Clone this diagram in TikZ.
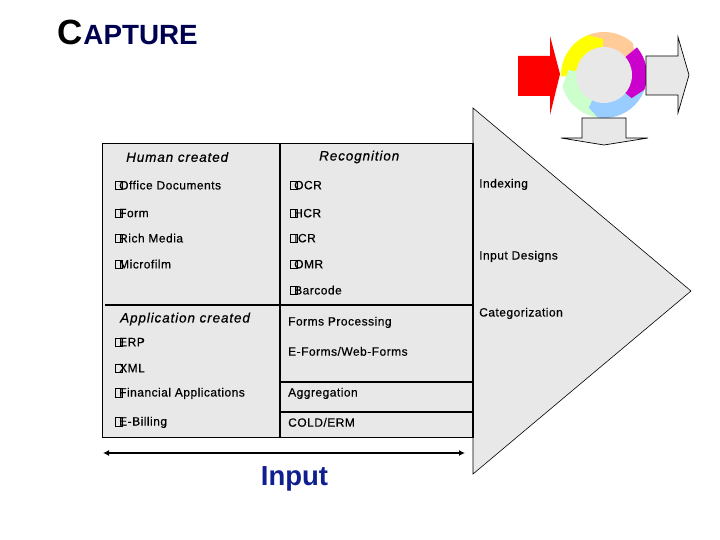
\documentclass[tikz,border=0pt]{standalone}
\usepackage{fontspec}
\setmainfont{Liberation Sans}
\newfontfamily\itemfont[FakeBold=0.35,LetterSpace=4]{Liberation Sans}
\newfontfamily\headfont[FakeBold=0.5,LetterSpace=6.5]{Liberation Sans}
\usetikzlibrary{
    arrows.meta,
    calc,
    positioning
}
\definecolor{panel}{HTML}{E8E8E8}
\definecolor{navy}{HTML}{0F1F8F}
\definecolor{deepnavy}{HTML}{000050}
\setlength{\fboxsep}{0pt}
\setlength{\fboxrule}{0.6pt}
\newcommand{\bul}{\makebox[4pt][l]{\fbox{\rule{0pt}{7.5pt}\hspace{6.5pt}}}}
\tikzset{
    item/.style={anchor=west, inner sep=0pt, yshift=0.6pt, font=\fontsize{12}{14}\itemfont},
    head/.style={anchor=west, inner sep=0pt, font=\fontsize{13.5}{15}\headfont\itshape},
    grid/.style={line width=1.6pt},
    blockarrow/.style={draw=black, fill=panel, line width=0.7pt}
}

\begin{document}
\begin{tikzpicture}[x=1pt, y=-1pt]
    \useasboundingbox (0, 0) rectangle (720, 540);
    % title
    \node[anchor=base west, inner sep=0pt] (title) at (57, 45) {\fontsize{35}{40}\selectfont\bfseries C\hspace{1pt}\fontsize{27.8}{30}\selectfont\color{deepnavy}APTURE};
    % big arrow behind the table
    \draw[fill=panel, line width=0.6pt] (473, 108) -- (691, 291) -- (473, 474) -- cycle;
    \draw[fill=panel, line width=1pt] (102, 144) rectangle (473, 437);
    \coordinate (ctop) at (280, 144);
    \coordinate (cbot) at (280, 437);
    \coordinate (ml) at (105, 305);
    \coordinate (mr) at (473, 305);
    \coordinate (al) at (280, 382);
    \coordinate (ar) at (473, 382);
    \coordinate (bl) at (280, 412);
    \coordinate (br) at (473, 412);
    \coordinate (rt) at (473, 144);
    \coordinate (rb) at (473, 437);
    \draw[grid] (ctop) -- (cbot) (ml) -- (mr) (al) -- (ar) (bl) -- (br) (rt) -- (rb);
    % left column
    \node[head] (human) at (126, 157) {Human created};
    \node[item] (office) at (115, 186) {\bul Office Documents};
    \node[item] (form) at (115, 214) {\bul Form};
    \node[item] (rich) at (115, 239) {\bul Rich Media};
    \node[item] (film) at (115, 265) {\bul Microfilm};
    \node[head] (app) at (120, 319) {Application created};
    \node[item] (erp) at (115, 343) {\bul ERP};
    \node[item] (xml) at (115, 369) {\bul XML};
    \node[item] (fin) at (115, 394) {\bul Financial Applications};
    \node[item] (bill) at (115, 423) {\bul E-Billing};
    % right column
    \node[head] (recog) at (319, 157) {Recognition};
    \node[item] (ocr) at (290, 186) {\bul OCR};
    \node[item] (hcr) at (290, 214) {\bul HCR};
    \node[item] (icr) at (290, 239) {\bul ICR};
    \node[item] (omr) at (290, 265) {\bul OMR};
    \node[item] (bar) at (290, 291) {\bul Barcode};
    \node[item] (forms) at (288, 323) {Forms Processing};
    \node[item] (eforms) at (288, 352) {E-Forms/Web-Forms};
    \node[item] (aggr) at (288, 394) {Aggregation};
    \node[item] (cold) at (288, 423) {COLD/ERM};
    % arrow labels
    \node[item] (index) at (479, 185) {Indexing};
    \node[item] (design) at (479, 257) {Input Designs};
    \node[item] (categ) at (479, 314) {Categorization};
    % input span
    \coordinate (il) at (103, 453);
    \coordinate (ir) at (465, 453);
    \draw[{Latex[length=6pt, width=6pt]}-{Latex[length=6pt, width=6pt]}, line width=1.6pt] (il) -- (ir);
    \node[anchor=base, inner sep=0pt, text=navy, font=\fontsize{27.5}{30}\selectfont\bfseries] (input) at (294.5, 485) {Input};
    % cycle
    \coordinate (hub) at (604, 75);
    \begin{scope}[shift={(hub)}, y=1pt]
        \foreach \from/\upto/\tip/\col in {112/48/28/FFCC99, 182/112/92/FFFF00, -98/-165/-188/CCFFCC, -20/-98/-115/99CCFF, 40/-20/-40/CC00CC} {
            \definecolor{seg}{HTML}{\col}
            \fill[seg] (\from:43) arc[start angle=\from, end angle=\upto, radius=43] -- (\tip:36) -- (\tip:22) -- (\from:22) -- cycle;
        }
        \fill[panel] (0, 0) circle[radius=28];
    \end{scope}
    % block arrows
    \fill[red] (518, 56) -- (550, 56) -- (550, 36) -- (560, 74) -- (550, 115) -- (550, 96) -- (518, 96) -- cycle;
    \draw[blockarrow] (646, 56) -- (678, 56) -- (678, 37) -- (689, 75) -- (678, 113) -- (678, 95) -- (646, 95) -- cycle;
    \draw[blockarrow] (582, 118) -- (626, 118) -- (626, 138) -- (648, 138) -- (604, 145) -- (561, 138) -- (582, 138) -- cycle;
\end{tikzpicture}
\end{document}
